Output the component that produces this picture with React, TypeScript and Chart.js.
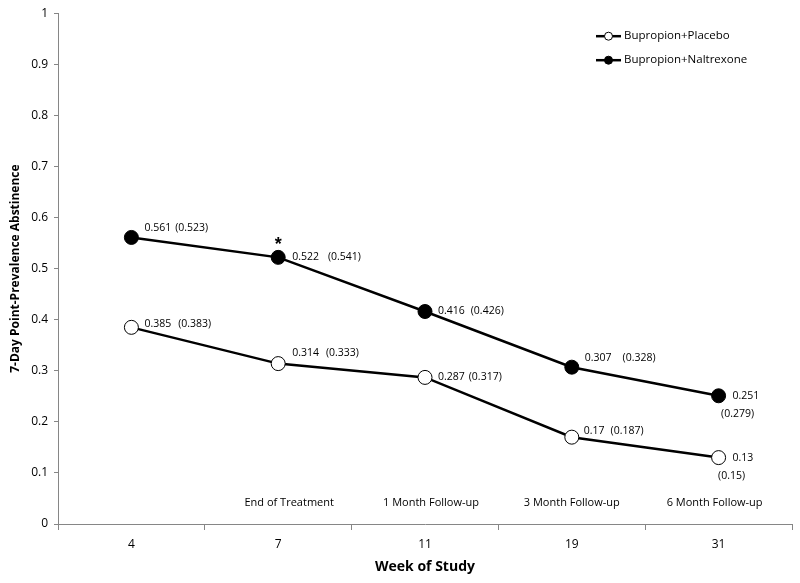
import React, { useEffect, useRef } from 'react';
import { Chart, registerables } from 'chart.js';

Chart.register(...registerables);

// ---- data ----
const weeks = ['4', '7', '11', '19', '31'];
const phaseLabels = ['', 'End of Treatment', '1 Month Follow-up', '3 Month Follow-up', '6 Month Follow-up'];
const seriesNames = ['Bupropion+Placebo', 'Bupropion+Naltrexone'];
const placeboValues = [0.385, 0.314, 0.287, 0.17, 0.13];
const naltrexoneValues = [0.561, 0.522, 0.416, 0.307, 0.251];
const placeboAdjusted = ['(0.383)', '(0.333)', '(0.317)', '(0.187)', '(0.15)'];
const naltrexoneAdjusted = ['(0.523)', '(0.541)', '(0.426)', '(0.328)', '(0.279)'];
const significantWeeks = ['7'];
const phaseLabelLevel = 0.041;

// ---- label layout (pixel offsets from each point; gap = space between value and adjusted value) ----
const placeboLabelLayout = [
  { vx: 13, vy: -3, gap: 7, below: false, bx: 0, by: 0 },
  { vx: 14, vy: -11, gap: 7, below: false, bx: 0, by: 0 },
  { vx: 13, vy: 0, gap: 4, below: false, bx: 0, by: 0 },
  { vx: 12, vy: -6, gap: 6, below: false, bx: 0, by: 0 },
  { vx: 14, vy: 0, gap: 0, below: true, bx: 13, by: 18 },
];
const naltrexoneLabelLayout = [
  { vx: 13, vy: -9, gap: 4, below: false, bx: 0, by: 0 },
  { vx: 14, vy: 0, gap: 9, below: false, bx: 0, by: 0 },
  { vx: 13, vy: 0, gap: 6, below: false, bx: 0, by: 0 },
  { vx: 13, vy: -9, gap: 11, below: false, bx: 0, by: 0 },
  { vx: 14, vy: 0, gap: 0, below: true, bx: 19, by: 18 },
];
const phaseLabelDx = [0, 11, 6, 0, -4];

const FONT = '"Open Sans", "Liberation Sans", sans-serif';
const AXIS_COLOR = '#868686';

const annotationPlugin = {
  id: 'annotations',
  afterDatasetsDraw(chart: any) {
    const ctx = chart.ctx;
    const xs = chart.scales.x;
    const ys = chart.scales.y;
    const area = chart.chartArea;
    ctx.save();
    ctx.fillStyle = '#000';
    ctx.textBaseline = 'middle';

    // phase labels
    ctx.font = `11px ${FONT}`;
    ctx.textAlign = 'center';
    phaseLabels.forEach((t, i) => {
      if (!t) return;
      ctx.fillText(t, xs.getPixelForValue(i) + phaseLabelDx[i], ys.getPixelForValue(phaseLabelLevel));
    });

    // data labels
    const layouts = [placeboLabelLayout, naltrexoneLabelLayout];
    const values = [placeboValues, naltrexoneValues];
    const adjusted = [placeboAdjusted, naltrexoneAdjusted];
    ctx.font = `10.5px ${FONT}`;
    [0, 1].forEach((di) => {
      const meta = chart.getDatasetMeta(di);
      meta.data.forEach((pt: any, i: number) => {
        const L = layouts[di][i];
        const vText = String(values[di][i]);
        ctx.textAlign = 'left';
        ctx.fillText(vText, pt.x + L.vx, pt.y + L.vy);
        if (L.below) {
          ctx.textAlign = 'center';
          ctx.fillText(adjusted[di][i], pt.x + L.bx, pt.y + L.by);
        } else {
          const w = ctx.measureText(vText).width;
          ctx.fillText(adjusted[di][i], pt.x + L.vx + w + L.gap, pt.y + L.vy);
        }
      });
    });

    // significance asterisks
    const nmeta = chart.getDatasetMeta(1);
    ctx.font = 'bold 18px "Liberation Sans", sans-serif';
    ctx.textAlign = 'center';
    weeks.forEach((w, i) => {
      if (significantWeeks.includes(w)) {
        const pt = nmeta.data[i];
        ctx.fillText('*', pt.x, pt.y - 12);
      }
    });

    // legend
    const lx = area.right - 196;
    const rows = [area.top + 23, area.top + 47];
    chart.data.datasets.forEach((ds: any, i: number) => {
      const y = rows[i];
      ctx.strokeStyle = '#000';
      ctx.lineWidth = 2.5;
      ctx.beginPath();
      ctx.moveTo(lx, y);
      ctx.lineTo(lx + 25, y);
      ctx.stroke();
      ctx.beginPath();
      ctx.arc(lx + 12.5, y, 4, 0, Math.PI * 2);
      ctx.fillStyle = ds.pointBackgroundColor;
      ctx.fill();
      ctx.lineWidth = 1;
      ctx.stroke();
      ctx.fillStyle = '#000';
      ctx.font = `11.5px ${FONT}`;
      ctx.textAlign = 'left';
      ctx.fillText(ds.label, lx + 28, y);
    });
    ctx.restore();
  },
};

export default function App() {
  const ref = useRef<HTMLCanvasElement>(null);
  useEffect(() => {
    if (!ref.current) return;
    const chart = new Chart(ref.current, {
      type: 'line',
      data: {
        labels: weeks,
        datasets: [
          {
            label: seriesNames[0],
            data: placeboValues,
            borderColor: '#000',
            borderWidth: 2.5,
            pointRadius: 7,
            pointHoverRadius: 7,
            pointBackgroundColor: '#fff',
            pointBorderColor: '#000',
            pointBorderWidth: 1,
            tension: 0,
          },
          {
            label: seriesNames[1],
            data: naltrexoneValues,
            borderColor: '#000',
            borderWidth: 2.5,
            pointRadius: 7,
            pointHoverRadius: 7,
            pointBackgroundColor: '#000',
            pointBorderColor: '#000',
            pointBorderWidth: 1,
            tension: 0,
          },
        ],
      },
      options: {
        responsive: false,
        animation: false,
        layout: { padding: { top: 12, right: 2, left: 0, bottom: 0 } },
        plugins: { legend: { display: false }, tooltip: { enabled: false } },
        events: [],
        scales: {
          x: {
            type: 'category',
            offset: true,
            grid: { offset: true, drawOnChartArea: false, tickLength: 6, color: AXIS_COLOR },
            border: { color: AXIS_COLOR, width: 1 },
            ticks: { color: '#000', font: { family: FONT, size: 12 }, padding: 7, maxRotation: 0 },
            title: {
              display: true,
              text: 'Week of Study',
              color: '#000',
              font: { family: FONT, size: 14, weight: 'bold' },
              padding: { top: 0, bottom: 8 },
            },
            afterFit(scale: any) {
              scale.height = 59;
            },
          },
          y: {
            min: 0,
            max: 1,
            grid: { drawOnChartArea: false, tickLength: 4, color: AXIS_COLOR },
            border: { color: AXIS_COLOR, width: 1 },
            ticks: {
              stepSize: 0.1,
              color: '#000',
              font: { family: FONT, size: 12 },
              padding: 6,
              callback: (v: any) => String(parseFloat(Number(v).toFixed(1))),
            },
            title: {
              display: true,
              text: '7-Day Point-Prevalence Abstinence',
              color: '#000',
              font: { family: FONT, size: 12, weight: 'bold' },
              padding: { top: 8, bottom: 0 },
            },
            afterFit(scale: any) {
              scale.width = 58;
            },
          },
        },
      },
      plugins: [annotationPlugin],
    } as any);
    return () => chart.destroy();
  }, []);
  return (
    <div style={{ position: 'absolute', left: 0, top: 0, width: 800, height: 583, background: '#fff' }}>
      <canvas ref={ref} width={800} height={583} />
    </div>
  );
}
